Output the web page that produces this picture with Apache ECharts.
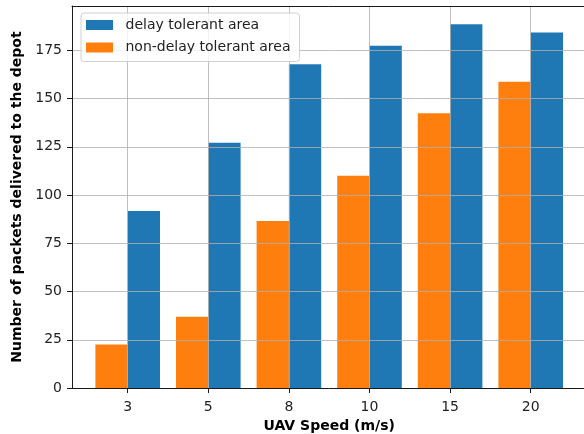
<!DOCTYPE html>
<html>
<head>
<meta charset="utf-8">
<script src="https://cdn.jsdelivr.net/npm/echarts@6/dist/echarts.min.js"></script>
<style>
html,body{margin:0;padding:0;background:#fff;}
#chart{width:584px;height:434px;}
</style>
</head>
<body>
<div id="chart"></div>
<script>
const speeds = ['3', '5', '8', '10', '15', '20'];
const delayTolerant = [91.7, 127.1, 167.8, 177.4, 188.6, 184.3];
const nonDelayTolerant = [22.6, 36.9, 86.5, 110, 142.4, 158.8];
const yTicks = [0, 25, 50, 75, 100, 125, 150, 175];
const yMax = 198;

const FONT = 'DejaVu Sans';
const FS = 14;
const SPINE = '#1a1a1a';
const GRIDC = '#b0b0b0';
const chart = echarts.init(document.getElementById('chart'), null, {renderer: 'canvas'});
const frameAxis = (pos) => ({
  gridIndex: 0, type: 'value', min: 0, max: 1, position: pos, z: 4,
  axisLine: {show: true, onZero: false, lineStyle: {color: SPINE, width: 1}},
  axisTick: {show: false}, axisLabel: {show: false}, splitLine: {show: false}
});
const option = {
  animation: false,
  textStyle: {fontFamily: FONT},
  grid: [
    {left: 72, top: 6, width: 514, height: 382, show: false, containLabel: false, outerBoundsMode: 'none'},
    {left: 127.7, top: 6, width: 403, height: 382, show: false, containLabel: false, outerBoundsMode: 'none'}
  ],
  legend: {
    data: ['delay tolerant area', 'non-delay tolerant area'],
    orient: 'vertical',
    left: 81,
    top: 13,
    itemWidth: 27,
    itemHeight: 10,
    itemGap: 6.5,
    padding: [4, 9, 6, 5],
    backgroundColor: 'rgba(255,255,255,0.8)',
    borderColor: '#d0d0d0',
    borderWidth: 1,
    borderRadius: 3,
    icon: 'rect',
    textStyle: {fontFamily: FONT, fontSize: FS, color: '#222', lineHeight: 16, padding: [0, 0, 0, 7.5]},
    z: 10
  },
  xAxis: [
    frameAxis('bottom'),
    {
      gridIndex: 1, type: 'category', data: speeds, boundaryGap: false, z: 3,
      name: 'UAV Speed (m/s)', nameLocation: 'middle', nameGap: 31,
      nameTextStyle: {fontFamily: FONT, fontSize: FS, fontWeight: 'bold', color: '#000'},
      axisLine: {show: false},
      axisTick: {show: true, length: 5, interval: 0, lineStyle: {color: SPINE, width: 1}},
      axisLabel: {interval: 0, margin: 12, fontFamily: FONT, fontSize: FS, color: '#222'},
      splitLine: {show: true, interval: 0, lineStyle: {color: GRIDC, width: 0.8}}
    },
    frameAxis('top')
  ],
  yAxis: [
    {
      gridIndex: 0, type: 'value', min: 0, max: yMax, interval: 25, z: 3,
      name: 'Number of packets delivered to the depot', nameLocation: 'middle', nameGap: 41,
      nameTextStyle: {fontFamily: FONT, fontSize: FS, fontWeight: 'bold', color: '#000'},
      axisLine: {show: true, onZero: false, lineStyle: {color: SPINE, width: 1}},
      axisTick: {show: true, length: 5, lineStyle: {color: SPINE, width: 1}},
      axisLabel: {margin: 10, fontFamily: FONT, fontSize: FS, color: '#222', showMaxLabel: false,
        formatter: v => (yTicks.indexOf(v) >= 0 ? String(v) : '')},
      splitLine: {show: true, lineStyle: {color: GRIDC, width: 0.8}}
    },
    {gridIndex: 1, type: 'value', min: 0, max: yMax, show: false}
  ],
  series: [
    {
      name: 'non-delay tolerant area', type: 'bar', xAxisIndex: 1, yAxisIndex: 1,
      data: nonDelayTolerant, barWidth: 32.3, barGap: '0%', clip: false,
      itemStyle: {color: '#ff7f0e'}
    },
    {
      name: 'delay tolerant area', type: 'bar', xAxisIndex: 1, yAxisIndex: 1,
      data: delayTolerant, barWidth: 32.3, barGap: '0%', clip: false,
      itemStyle: {color: '#1f77b4'}
    }
  ]
};
chart.setOption(option);
</script>
</body>
</html>
